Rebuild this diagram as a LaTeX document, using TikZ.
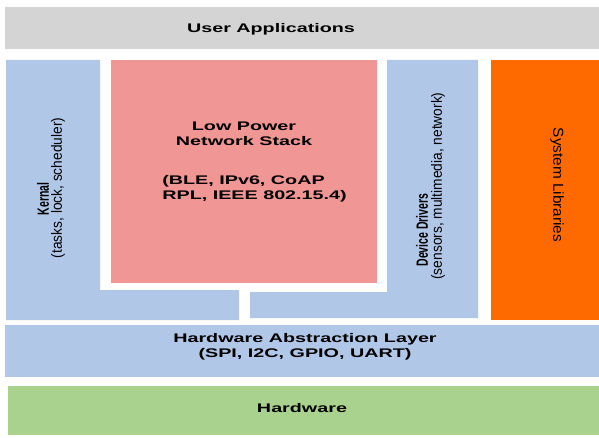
\documentclass[tikz,border=0pt]{standalone}
\usepackage{fontspec}
\setmainfont{Liberation Sans}
\usepackage{graphicx}
\usepackage{tikz}

\definecolor{appgray}{RGB}{212,212,212}
\definecolor{layerblue}{RGB}{176,199,231}
\definecolor{stackpink}{RGB}{240,150,148}
\definecolor{liborange}{RGB}{255,106,0}
\definecolor{hwgreen}{RGB}{168,210,142}

\newcommand{\vtitle}[1]{\scalebox{1}[1.55]{#1}}
\newcommand{\vsubtext}[1]{\scalebox{1.25}[1.35]{#1}}

\tikzset{
  head/.style={font=\bfseries\fontsize{12.5}{15}\selectfont, xscale=1.58, inner sep=0pt},
  vhead/.style={font=\bfseries\fontsize{10.5}{12}\selectfont, rotate=90, inner sep=0pt},
  vsub/.style={font=\fontsize{11}{13}\selectfont, rotate=90, inner sep=0pt}
}

\begin{document}
\begin{tikzpicture}[x=1pt,y=-1pt]
\useasboundingbox[fill=white] (0,0) rectangle (599,438);

\fill[appgray] (5,7) rectangle (599,49);
\fill[layerblue] (6,60) -- (100,60) -- (100,290) -- (239,290) -- (239,320) -- (6,320) -- cycle;
\fill[stackpink] (111,60) rectangle (377,283);
\fill[layerblue] (387,60) -- (478,60) -- (478,318) -- (250,318) -- (250,292) -- (387,292) -- cycle;
\fill[liborange] (491,60) rectangle (599,320);
\fill[layerblue] (5,325) rectangle (599,377);
\fill[hwgreen] (8,386) rectangle (599,435);

\node[head] (apps) at (271,29) {User Applications};
\node[vhead] (kernal) at (43,199) {\vtitle{Kernal}};
\node[vsub] (kernalsub) at (58,188) {\vsubtext{(tasks, lock, scheduler)}};
\node[head, align=center] (lpns) at (244,134) {Low Power\\Network Stack};
\node[head, align=left, anchor=west] (proto) at (162,189) {(BLE, IPv6, CoAP\\RPL, IEEE 802.15.4)};
\node[vhead] (drivers) at (422,230) {\vtitle{Device Drivers}};
\node[vsub] (driverssub) at (438,186) {\vsubtext{(sensors, multimedia, network)}};
\node[font=\fontsize{12}{14}\selectfont, rotate=-90, inner sep=0pt] (syslib) at (557,185) {\scalebox{1.28}[1.2]{System Libraries}};
\node[head, align=center] (hal) at (305,346.5) {Hardware Abstraction Layer\\(SPI, I2C, GPIO, UART)};
\node[head] (hw) at (302,408) {Hardware};

\end{tikzpicture}
\end{document}
